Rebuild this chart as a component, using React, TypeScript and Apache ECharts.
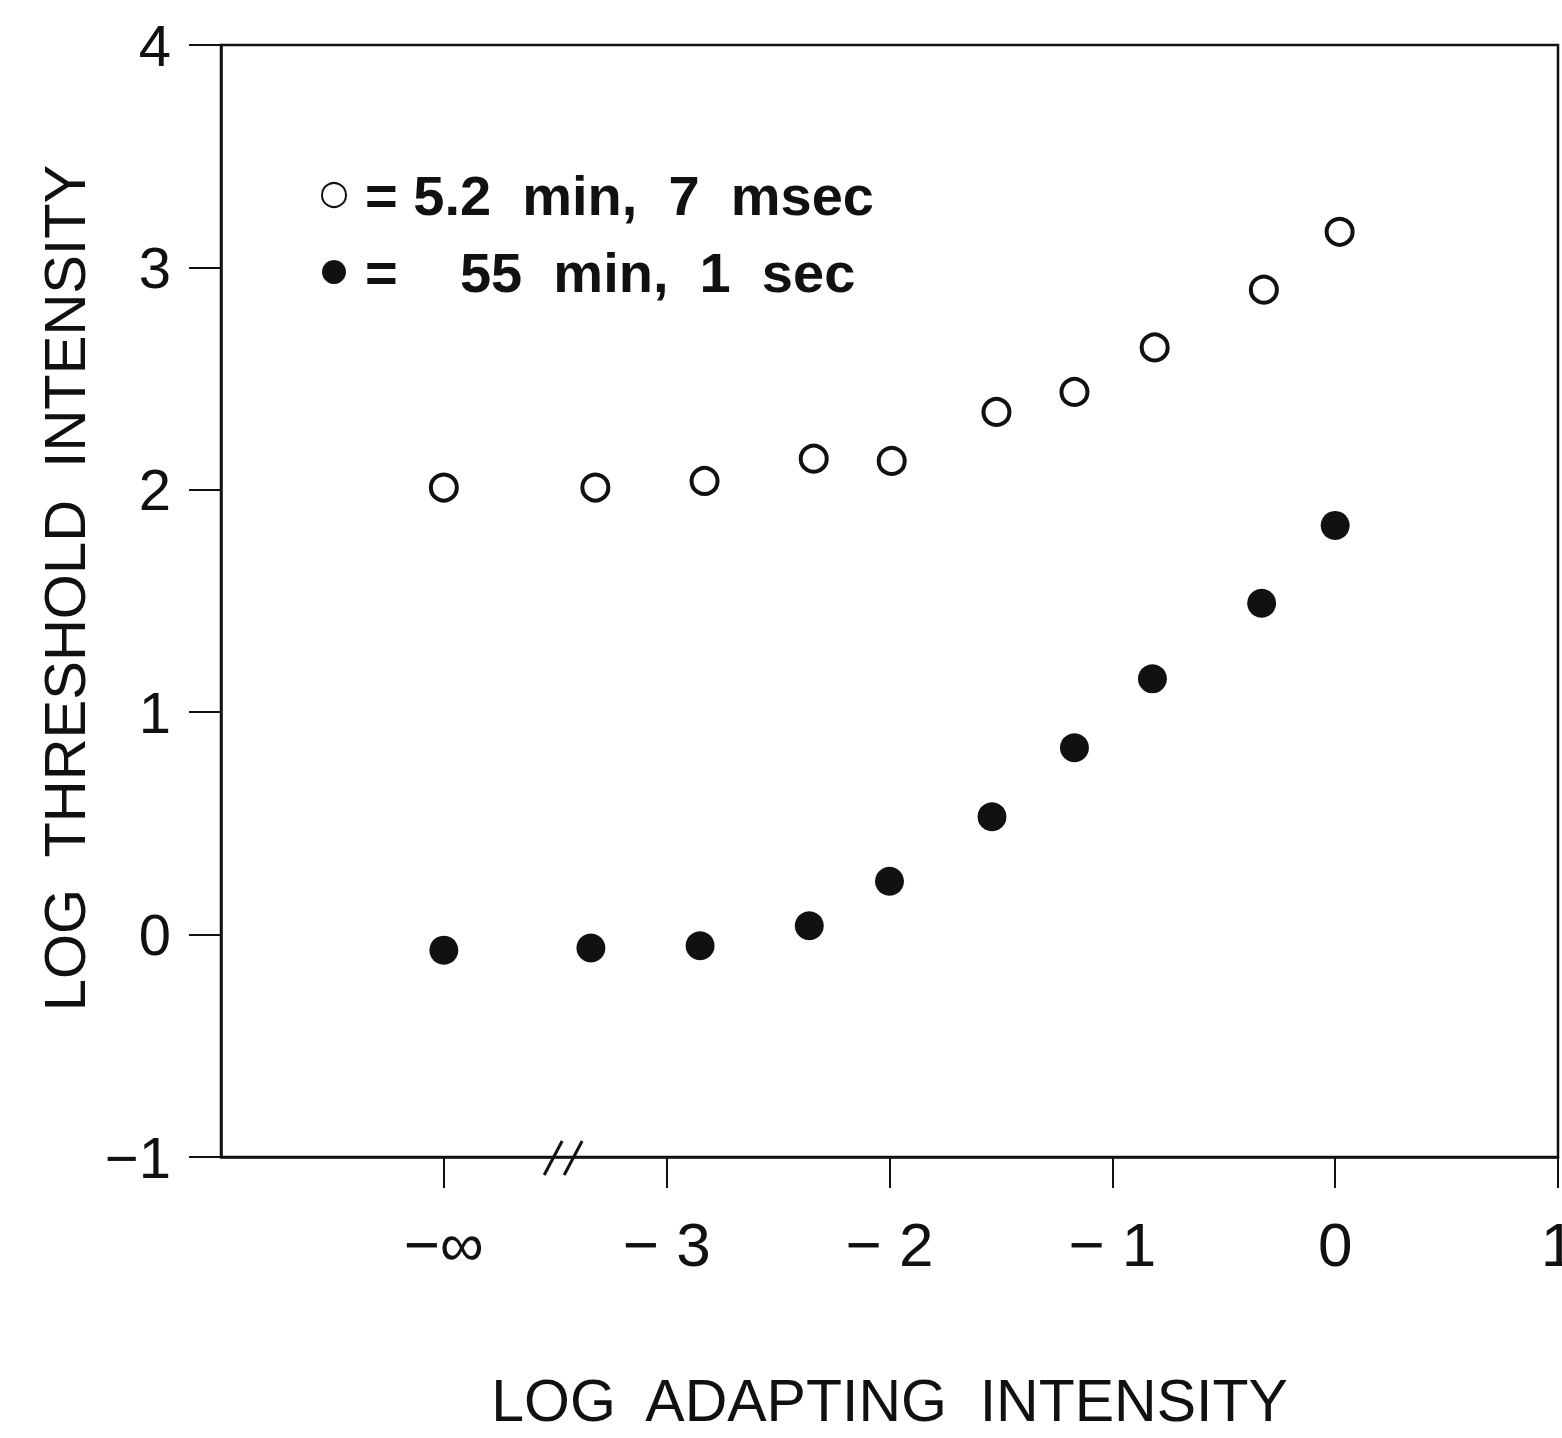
import React, { useEffect, useRef } from "react";
import * as echarts from "echarts";

const FONT = '"Liberation Sans", Arial, Helvetica, sans-serif';
const INK = "#111111";

// Data
const X_OPEN = [-4, -3.32, -2.83, -2.34, -1.99, -1.52, -1.17, -0.81, -0.32, 0.02];
const Y_OPEN = [2.01, 2.01, 2.04, 2.14, 2.13, 2.35, 2.44, 2.64, 2.9, 3.16];
const X_FILLED = [-4, -3.34, -2.85, -2.36, -2.0, -1.54, -1.17, -0.82, -0.33, 0.0];
const Y_FILLED = [-0.07, -0.06, -0.05, 0.04, 0.24, 0.53, 0.84, 1.15, 1.49, 1.84];

const X_TICKS = [-4, -3, -2, -1, 0, 1];
const X_TICK_LABELS: Record<string, string> = {
  "-4": "\u2212\u221E",
  "-3": "\u2212 3",
  "-2": "\u2212 2",
  "-1": "\u2212 1",
  "0": "0",
  "1": "1",
};
const Y_TICK_LABELS: Record<string, string> = {
  "-1": "\u22121",
  "0": "0",
  "1": "1",
  "2": "2",
  "3": "3",
  "4": "4",
};
const BREAK_X = -3.46;
const SERIES_OPEN = "= 5.2  min,  7  msec";
const SERIES_FILLED = "=    55  min,  1  sec";
const X_TITLE = "LOG  ADAPTING  INTENSITY";
const Y_TITLE = "LOG  THRESHOLD  INTENSITY";

export default function App() {
  const ref = useRef<HTMLDivElement>(null);

  useEffect(() => {
    if (!ref.current) return;
    const chart = echarts.init(ref.current, null, { renderer: "svg" });
    const option: any = {
      animation: false,
      backgroundColor: "#ffffff",
      grid: {
        left: 221,
        right: 4,
        top: 45,
        bottom: 281,
        outerBoundsMode: "none",
        containLabel: false,
        show: true,
        borderColor: INK,
        borderWidth: 2.5,
        backgroundColor: "transparent",
      },
      legend: {
        left: 316,
        top: 162,
        orient: "vertical",
        itemWidth: 24,
        itemHeight: 24,
        itemGap: 21,
        selectedMode: false,
        textStyle: {
          fontFamily: FONT,
          fontSize: 56,
          fontWeight: "bold",
          color: INK,
          padding: [0, 0, 0, 14],
        },
        data: [SERIES_OPEN, SERIES_FILLED],
      },
      xAxis: {
        type: "value",
        min: -5,
        max: 1,
        interval: 1,
        axisLine: { show: true, onZero: false, lineStyle: { color: INK, width: 2.5 } },
        axisTick: {
          show: true,
          inside: false,
          length: 31,
          customValues: X_TICKS,
          lineStyle: { color: INK, width: 2 },
        },
        axisLabel: {
          customValues: X_TICKS,
          margin: 56,
          fontSize: 62,
          fontFamily: FONT,
          color: INK,
          formatter: (v: number) => X_TICK_LABELS[String(v)] ?? "",
        },
        splitLine: { show: false },
        name: X_TITLE,
        nameLocation: "middle",
        nameGap: 216,
        nameTextStyle: { fontSize: 59, lineHeight: 56, fontFamily: FONT, color: INK },
      },
      yAxis: {
        type: "value",
        min: -1,
        max: 4,
        interval: 1,
        axisLine: { show: true, onZero: false, lineStyle: { color: INK, width: 2.5 } },
        axisTick: { show: true, inside: false, length: 32, lineStyle: { color: INK, width: 2 } },
        axisLabel: {
          margin: 50,
          fontSize: 58,
          fontFamily: FONT,
          color: INK,
          formatter: (v: number) => Y_TICK_LABELS[String(v)] ?? "",
        },
        splitLine: { show: false },
        name: Y_TITLE,
        nameLocation: "middle",
        nameGap: 128,
        nameRotate: 90,
        nameTextStyle: { fontSize: 58, fontFamily: FONT, color: INK, padding: [0, 0, 0, 26] },
      },
      series: [
        {
          name: SERIES_OPEN,
          type: "scatter",
          symbol: "circle",
          symbolSize: 26,
          itemStyle: { color: "#ffffff", borderColor: INK, borderWidth: 4, opacity: 1 },
          data: X_OPEN.map((x, i) => [x, Y_OPEN[i]]),
        },
        {
          name: SERIES_FILLED,
          type: "scatter",
          symbol: "circle",
          symbolSize: 29,
          itemStyle: { color: INK, opacity: 1 },
          data: X_FILLED.map((x, i) => [x, Y_FILLED[i]]),
        },
      ],
    };
    chart.setOption(option);

    const p = chart.convertToPixel({ gridIndex: 0 }, [BREAK_X, -1]) as number[];
    if (p) {
      const [bx, by] = p;
      chart.setOption({
        graphic: [
          {
            type: "line",
            shape: { x1: bx - 20, y1: by + 18, x2: bx - 2, y2: by - 16 },
            style: { stroke: INK, lineWidth: 3 },
          },
          {
            type: "line",
            shape: { x1: bx, y1: by + 18, x2: bx + 18, y2: by - 16 },
            style: { stroke: INK, lineWidth: 3 },
          },
        ],
      });
    }

    return () => chart.dispose();
  }, []);

  return (
    <div
      ref={ref}
      style={{ position: "fixed", left: 0, top: 0, width: 1562, height: 1438, background: "#fff" }}
    />
  );
}
